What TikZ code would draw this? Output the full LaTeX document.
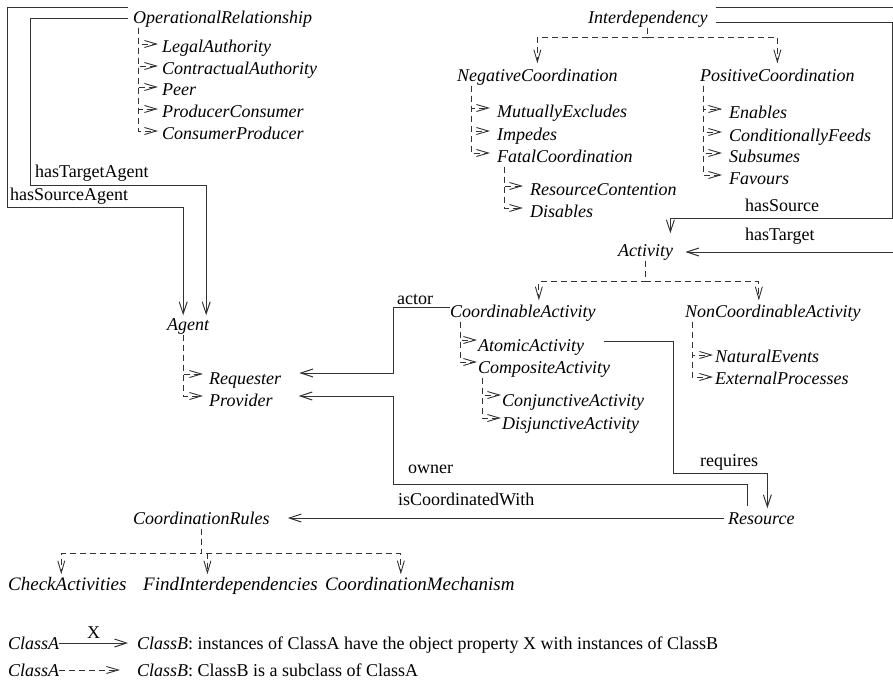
\documentclass[tikz,border=0pt]{standalone}
\usepackage{fontspec}
\setmainfont{Liberation Serif}
\usepackage{tikz}
\usetikzlibrary{calc}
\usetikzlibrary{arrows.meta}
\tikzset{>=latex}
\tikzstyle{lbl} = [draw=none, inner sep=0, anchor=west, text height=13pt, text depth=4pt]
\tikzstyle{cls} = [lbl, font=\itshape]
\tikzstyle{prop} = [-{Straight Barb[length=12pt, width=8pt]}, line width=1pt, draw=black!80]
\tikzstyle{sub} = [-{Straight Barb[length=12pt, width=7pt]}, dash pattern=on 6pt off 4pt, line width=0.9pt, draw=black!80]

\begin{document}
\fontsize{18}{21}\selectfont
\begin{tikzpicture}[x=1pt, y=-1pt]
\useasboundingbox (0,0) rectangle (893,687);
% operational relationships and agents
\node [cls] (oprel) at (133, 19) {OperationalRelationship};
\node [cls] (legal) at (162, 48) {LegalAuthority};
\node [cls] (contr) at (162, 70) {ContractualAuthority};
\node [cls] (peer) at (162, 91) {Peer};
\node [cls] (prodcons) at (162, 113) {ProducerConsumer};
\node [cls] (consprod) at (162, 135) {ConsumerProducer};
\foreach \c in {legal,contr,peer,prodcons,consprod}
  \draw [sub] ([xshift=5pt]oprel.south west) |- ([shift={(-4pt,4pt)}]\c.west);
\node [cls] (agent) at (167, 326) {Agent};
\node [cls] (req) at (209, 380) {Requester};
\node [cls] (prov) at (209, 402) {Provider};
\foreach \c in {req,prov}
  \draw [sub] ([xshift=16pt]agent.south west) |- ([shift={(-6pt,6pt)}]\c.west);
\node [lbl] (tgtagent) at (35, 173) {hasTargetAgent};
\node [lbl] (srcagent) at (10, 196) {hasSourceAgent};
\draw [prop] ([xshift=-5pt]oprel.west) -| ++(-98,166) -| ([shift={(18pt,2pt)}]agent.north);
\draw [prop] ([shift={(-5pt,11pt)}]oprel.west) -| ++(-121,199) -| ([shift={(-5pt,2pt)}]agent.north);
% interdependencies
\node [cls] (interdep) at (588, 19) {Interdependency};
\node [cls] (negcoord) at (457, 77) {NegativeCoordination};
\node [cls] (poscoord) at (700, 77) {PositiveCoordination};
\draw [sub] (interdep.south) -- ++(0,10) -| ([yshift=5pt]negcoord.north);
\draw [sub] (interdep.south) -- ++(0,10) -| ([yshift=5pt]poscoord.north);
\node [cls] (mutex) at (497, 113) {MutuallyExcludes};
\node [cls] (impedes) at (497, 136) {Impedes};
\node [cls] (fatal) at (497, 158) {FatalCoordination};
\foreach \c in {mutex,impedes,fatal}
  \draw [sub] ([xshift=14pt]negcoord.south west) |- ([shift={(-7pt,5pt)}]\c.west);
\node [cls] (rescont) at (530, 191) {ResourceContention};
\node [cls] (disables) at (530, 213) {Disables};
\foreach \c in {rescont,disables}
  \draw [sub] ([xshift=7pt]fatal.south west) |- ([shift={(-7pt,5pt)}]\c.west);
\node [cls] (enables) at (729, 114) {Enables};
\node [cls] (condfeeds) at (729, 137) {ConditionallyFeeds};
\node [cls] (subsumes) at (729, 158) {Subsumes};
\node [cls] (favours) at (729, 180) {Favours};
\foreach \c in {enables,condfeeds,subsumes,favours}
  \draw [sub] ([xshift=3pt]poscoord.south west) |- ([shift={(-7pt,5pt)}]\c.west);
% activities
\node [cls] (activity) at (618, 252) {Activity};
\node [lbl] (srcact) at (745, 207) {hasSource};
\node [lbl] (tgtact) at (745, 236) {hasTarget};
\draw [prop] ([shift={(8pt,-4pt)}]interdep.east) -| ++(177,195) -| ([shift={(-3pt,10pt)}]activity.north east);
\draw [prop] ([shift={(8pt,11pt)}]interdep.east) -- ++(181,0) |- ([xshift=12pt]activity.east);
\node [cls] (coordact) at (450, 313) {CoordinableActivity};
\node [cls] (noncoordact) at (685, 313) {NonCoordinableActivity};
\draw [sub] (activity.south) -- ++(0,21) -| ([shift={(16pt,4pt)}]coordact.north);
\draw [sub] (activity.south) -- ++(0,21) -| ([shift={(-14pt,4pt)}]noncoordact.north);
\node [cls] (atomic) at (478, 347) {AtomicActivity};
\node [cls] (composite) at (478, 369) {CompositeActivity};
\foreach \c in {atomic,composite}
  \draw [sub] ([xshift=10pt]coordact.south west) |- ([shift={(-1pt,7pt)}]\c.west);
\node [cls] (conj) at (502, 402) {ConjunctiveActivity};
\node [cls] (disj) at (502, 425) {DisjunctiveActivity};
\foreach \c in {conj,disj}
  \draw [sub] ([xshift=4pt]composite.south west) |- ([shift={(-1pt,7pt)}]\c.west);
\node [cls] (natural) at (715, 358) {NaturalEvents};
\node [cls] (external) at (715, 380) {ExternalProcesses};
\foreach \c in {natural,external}
  \draw [sub] ([xshift=7pt]noncoordact.south west) |- ([shift={(-2pt,3pt)}]\c.west);
% resources and coordination rules
\node [cls] (resource) at (728, 520) {Resource};
\node [cls] (coordrules) at (133, 520) {CoordinationRules};
\node [lbl] (actorlbl) at (397, 300) {actor};
\node [lbl] (ownerlbl) at (408, 469) {owner};
\node [lbl] (reqlbl) at (700, 462) {requires};
\node [lbl] (cwlbl) at (398, 501) {isCoordinatedWith};
\draw [prop] ([yshift=6pt]coordact.west) -- ++(-57,0) |- ([shift={(18pt,7pt)}]req.east);
\draw [prop] ([shift={(19pt,5pt)}]resource.north west) |- ++(-354,-22) |- ([shift={(26pt,6pt)}]prov.east);
\draw [prop] ([shift={(20pt,6pt)}]atomic.east) -- ++(69,0) -- ++(0,132) -| ([shift={(6pt,3pt)}]resource.north);
\draw [prop] ([shift={(-4pt,2pt)}]resource.west) -- ([shift={(18pt,2pt)}]coordrules.east);
\node [cls, font=\fontsize{19}{22}\selectfont\itshape] (check) at (8, 586) {CheckActivities};
\node [cls, font=\fontsize{19}{22}\selectfont\itshape] (findint) at (143, 586) {FindInterdependencies};
\node [cls, font=\fontsize{19}{22}\selectfont\itshape] (mech) at (325, 586) {CoordinationMechanism};
\draw [sub] (coordrules.south) -- ++(0,25) -| ([shift={(-6pt,3pt)}]check.north);
\draw [sub] (coordrules.south) -- ++(0,25) -| ([shift={(-23pt,3pt)}]findint.north);
\draw [sub] (coordrules.south) -- ++(0,25) -| ([shift={(-19pt,3pt)}]mech.north);
% legend
\node [cls] (legA1) at (8, 645) {ClassA};
\node [lbl] (legB1) at (137, 645) {\textit{ClassB}: instances of ClassA have the object property X with instances of ClassB};
\node [cls] (legA2) at (8, 672) {ClassA};
\node [lbl] (legB2) at (137, 672) {\textit{ClassB}: ClassB is a subclass of ClassA};
\draw [prop] ([yshift=2pt]legA1.east) -- node (xlbl) [above=4pt, inner sep=0] {X} ([shift={(-9pt,2pt)}]legB1.west);
\draw [sub] ([yshift=2pt]legA2.east) -- ([shift={(-17pt,2pt)}]legB2.west);
\end{tikzpicture}
\end{document}
